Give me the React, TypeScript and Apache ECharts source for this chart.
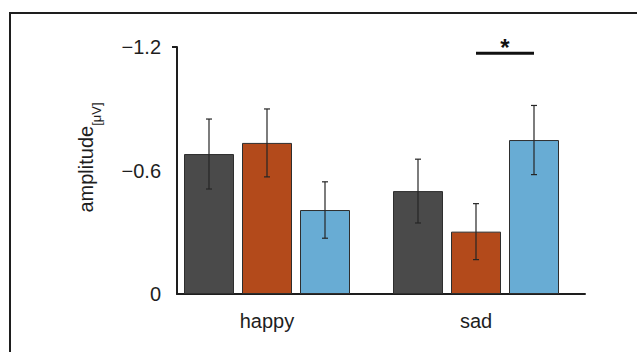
import React, { useEffect, useRef } from 'react';
import * as echarts from 'echarts';

// ---- data ----
const categories = ['happy', 'sad'];
const conditionNames = ['condition 1', 'condition 2', 'condition 3'];
const condition1Mean = [-0.68, -0.5];
const condition1Err = [0.17, 0.155];
const condition2Mean = [-0.734, -0.303];
const condition2Err = [0.165, 0.136];
const condition3Mean = [-0.408, -0.748];
const condition3Err = [0.137, 0.168];
const yMin = -1.2;
const yMax = 0;
const yInterval = 0.6;
const yTopTick = [-1.2];
// significance bracket: category index, from condition, to condition, level, label
const sigCategory = [1];
const sigFrom = [1];
const sigTo = [2];
const sigLevel = [-1.17];
const sigLabel = ['*'];

const colors = ['#4a4a4a', '#b34a1b', '#68acd4'];
const BAR_W = 50;
const BAR_GAP = 8;
const FONT = '"Liberation Sans", Arial, sans-serif';

const means = [condition1Mean, condition2Mean, condition3Mean];
const errs = [condition1Err, condition2Err, condition3Err];

export default function App() {
  const ref = useRef<HTMLDivElement>(null);
  useEffect(() => {
    if (!ref.current) return;
    const chart = echarts.init(ref.current, null, { renderer: 'svg' });

    const errData: number[][] = [];
    means.forEach((m, ci) => {
      m.forEach((v, k) => errData.push([k, ci, v, errs[ci][k]]));
    });
    const sigData = sigCategory.map((c, i) => [c, sigFrom[i], sigTo[i], sigLevel[i]]);

    const fmt = (v: number) =>
      Math.abs(v) < 1e-9 ? '0' : (v < 0 ? '\u2212' : '') + Math.abs(v).toFixed(1);

    const barSeries = means.map((m, ci) => ({
      type: 'bar',
      name: conditionNames[ci],
      xAxisIndex: 0,
      yAxisIndex: 0,
      data: m,
      barWidth: BAR_W,
      barGap: (BAR_GAP / BAR_W) * 100 + '%',
      itemStyle: { color: colors[ci], borderColor: '#2e2e2e', borderWidth: 1 },
      z: 2,
    }));

    chart.setOption({
      animation: false,
      textStyle: { fontFamily: FONT },
      graphic: [
        {
          type: 'rect',
          silent: true,
          shape: { x: 10, y: 13, width: 900, height: 600 },
          style: { fill: 'none', stroke: '#1e1e1e', lineWidth: 2 },
        },
      ],
      grid: [
        { left: 162.5, right: 56.5, top: 47, bottom: 58 },
        { left: 177, right: 52, top: 47, bottom: 58 },
      ],
      xAxis: [
        {
          type: 'category',
          gridIndex: 0,
          data: categories,
          axisLine: { show: false },
          axisTick: { show: false },
          axisLabel: { fontSize: 20, color: '#1e1e1e', margin: 17, fontFamily: FONT },
        },
        {
          type: 'category',
          gridIndex: 1,
          data: categories,
          axisLine: { show: true, lineStyle: { color: '#1e1e1e', width: 2 } },
          axisTick: { show: false },
          axisLabel: { show: false },
        },
      ],
      yAxis: [
        {
          type: 'value',
          gridIndex: 0,
          min: yMin,
          max: yMax,
          interval: yInterval,
          inverse: true,
          show: false,
        },
        {
          type: 'value',
          gridIndex: 1,
          min: yMin,
          max: yMax,
          interval: yInterval,
          inverse: true,
          splitLine: { show: false },
          axisLine: { show: true, lineStyle: { color: '#1e1e1e', width: 2 } },
          axisTick: {
            show: true,
            customValues: yTopTick,
            length: 5,
            lineStyle: { color: '#1e1e1e', width: 2 },
          },
          axisLabel: {
            fontSize: 20,
            color: '#1e1e1e',
            margin: 16,
            fontFamily: FONT,
            formatter: fmt,
          },
          name: '{a|amplitude}{s|[\u03bcV]}',
          nameLocation: 'middle',
          nameRotate: 90,
          nameGap: 74,
          nameTextStyle: {
            rich: {
              a: {
                fontSize: 20,
                color: '#1e1e1e',
                fontFamily: FONT,
                lineHeight: 34,
                verticalAlign: 'middle',
                padding: [0, 0, 0, 26],
              },
              s: {
                fontSize: 13,
                color: '#1e1e1e',
                fontFamily: FONT,
                lineHeight: 10,
                verticalAlign: 'bottom',
              },
            },
          },
        },
      ],
      series: [
        ...barSeries,
        {
          type: 'custom',
          xAxisIndex: 0,
          yAxisIndex: 0,
          data: errData,
          z: 5,
          renderItem: (params: any, api: any) => {
            const cat = api.value(0);
            const cond = api.value(1);
            const m = api.value(2);
            const e = api.value(3);
            const cx = api.coord([cat, 0])[0] + (cond - 1) * (BAR_W + BAR_GAP);
            const yTop = api.coord([cat, m - e])[1];
            const yBot = api.coord([cat, m + e])[1];
            const cap = 3;
            const st = { stroke: '#262626', lineWidth: 1.2 };
            return {
              type: 'group',
              children: [
                { type: 'line', shape: { x1: cx, y1: yTop, x2: cx, y2: yBot }, style: st },
                { type: 'line', shape: { x1: cx - cap, y1: yTop, x2: cx + cap, y2: yTop }, style: st },
                { type: 'line', shape: { x1: cx - cap, y1: yBot, x2: cx + cap, y2: yBot }, style: st },
              ],
            };
          },
        },
        {
          type: 'custom',
          xAxisIndex: 0,
          yAxisIndex: 0,
          data: sigData,
          z: 5,
          renderItem: (params: any, api: any) => {
            const cat = api.value(0);
            const base = api.coord([cat, api.value(3)]);
            const x1 = base[0] + (api.value(1) - 1) * (BAR_W + BAR_GAP);
            const x2 = base[0] + (api.value(2) - 1) * (BAR_W + BAR_GAP);
            const y = base[1];
            return {
              type: 'group',
              children: [
                {
                  type: 'line',
                  shape: { x1, y1: y, x2, y2: y },
                  style: { stroke: '#111', lineWidth: 3 },
                },
                {
                  type: 'text',
                  style: {
                    text: sigLabel[params.dataIndex],
                    x: (x1 + x2) / 2,
                    y: y - 18,
                    align: 'center',
                    verticalAlign: 'top',
                    fontSize: 24,
                    fontWeight: 'bold',
                    fontFamily: FONT,
                    fill: '#111',
                  },
                },
              ],
            };
          },
        },
      ],
    });
    return () => chart.dispose();
  }, []);

  return (
    <div
      ref={ref}
      style={{ position: 'fixed', left: 0, top: 0, width: 637, height: 352, background: '#fff' }}
    />
  );
}
